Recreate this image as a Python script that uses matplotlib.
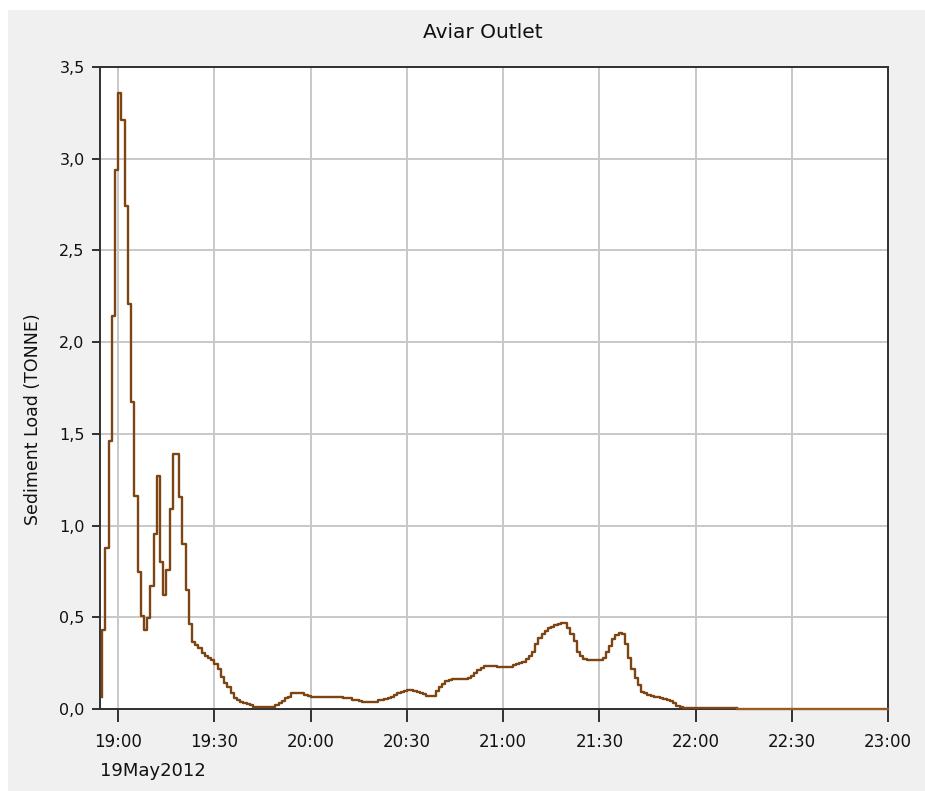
import matplotlib
matplotlib.use("Agg")
import matplotlib.pyplot as plt
import matplotlib.dates as mdates
from matplotlib.patches import Rectangle
from matplotlib.ticker import FuncFormatter
import pandas as pd

# sediment load (tonne), 1-minute steps starting 18:55
load = [
    0.067, 0.43, 0.876, 1.461, 2.14, 2.94, 3.357, 3.21, 2.74, 2.207,
    1.676, 1.161, 0.745, 0.505, 0.43, 0.494, 0.67, 0.955, 1.27, 0.80,
    0.62, 0.758, 1.089, 1.39, 1.39, 1.158, 0.898, 0.649, 0.462, 0.364,
    0.349, 0.331, 0.304, 0.289, 0.28, 0.267, 0.244, 0.216, 0.176, 0.144,
    0.118, 0.086, 0.062, 0.049, 0.04, 0.035, 0.027, 0.02, 0.013, 0.013,
    0.013, 0.013, 0.013, 0.013, 0.013, 0.02, 0.035, 0.045, 0.06, 0.067,
    0.089, 0.089, 0.089, 0.089, 0.076, 0.072, 0.067, 0.067, 0.067, 0.067,
    0.067, 0.067, 0.067, 0.067, 0.067, 0.067, 0.058, 0.058, 0.058, 0.05,
    0.049, 0.042, 0.036, 0.036, 0.036, 0.036, 0.04, 0.049, 0.049, 0.055,
    0.058, 0.065, 0.076, 0.085, 0.09, 0.1, 0.104, 0.104, 0.1, 0.095,
    0.088, 0.082, 0.071, 0.071, 0.071, 0.1, 0.122, 0.135, 0.15, 0.158,
    0.165, 0.165, 0.165, 0.165, 0.165, 0.17, 0.182, 0.195, 0.21, 0.225,
    0.235, 0.235, 0.235, 0.235, 0.227, 0.227, 0.227, 0.227, 0.227, 0.238,
    0.243, 0.249, 0.258, 0.27, 0.29, 0.31, 0.355, 0.385, 0.41, 0.425,
    0.44, 0.449, 0.458, 0.462, 0.471, 0.471, 0.44, 0.41, 0.37, 0.31,
    0.29, 0.275, 0.267, 0.267, 0.267, 0.267, 0.267, 0.28, 0.31, 0.345,
    0.38, 0.405, 0.413, 0.41, 0.355, 0.28, 0.22, 0.17, 0.13, 0.095,
    0.085, 0.075, 0.071, 0.068, 0.067, 0.062, 0.053, 0.048, 0.042, 0.035,
    0.018, 0.01, 0.005, 0.005, 0.005, 0.005, 0.005, 0.005, 0.005, 0.005,
    0.005, 0.005, 0.005, 0.005, 0.005, 0.005, 0.005, 0.005, 0.005,
]
start_time = "2012-05-19 18:55"
tail_times = ["2012-05-19 22:13", "2012-05-19 23:00"]
tail_load = [0.0, 0.0]

title = "Aviar Outlet"
y_label = "Sediment Load (TONNE)"
date_label = "19May2012"
y_ticks = [0.0, 0.5, 1.0, 1.5, 2.0, 2.5, 3.0, 3.5]

times = pd.date_range(start_time, periods=len(load), freq="min")

plt.rcParams["font.family"] = ["DejaVu Sans"]

fig = plt.figure(figsize=(9.25, 7.91), dpi=100, facecolor="white")
fig.patches.append(Rectangle((8 / 925, 0), 1, 1 - 10 / 791, transform=fig.transFigure,
                             facecolor="#f0f0f0", edgecolor="none", zorder=-10))

ax = fig.add_axes([100 / 925, 1 - 709 / 791, 788 / 925, 642 / 791])
ax.set_facecolor("white")

ax.plot(times, load, drawstyle="steps-pre", color="#7d4512", lw=1.7, zorder=3, clip_on=False)
ax.plot(pd.to_datetime(tail_times), tail_load, color="#9a5a22", lw=1.7, zorder=3, clip_on=False)

ax.set_xlim(pd.Timestamp("2012-05-19 18:54:18"), pd.Timestamp("2012-05-19 23:00"))
ax.set_ylim(0, 3.5)
ax.set_yticks(y_ticks)
ax.yaxis.set_major_formatter(FuncFormatter(lambda v, p: f"{v:.1f}".replace(".", ",")))
ax.xaxis.set_major_locator(mdates.MinuteLocator(byminute=[0, 30]))
ax.xaxis.set_major_formatter(mdates.DateFormatter("%H:%M"))

ax.grid(True, color="#c8c8c8", lw=1.4)
ax.set_axisbelow(True)
for s in ax.spines.values():
    s.set_color("#303030")
    s.set_linewidth(1.4)

ax.tick_params(axis="x", direction="out", length=9, width=1.4, color="#303030",
               labelsize=12, pad=8, labelcolor="#111111")
ax.tick_params(axis="y", direction="out", length=6, width=1.4, color="#303030",
               labelsize=11.5, pad=5, labelcolor="#111111")

fig.text(483 / 925, 1 - 33 / 791, title, ha="center", va="center", fontsize=14.5, color="#111111")
fig.text(33 / 925, 1 - 419 / 791, y_label, ha="center", va="center", rotation=90,
         fontsize=12.5, color="#111111")
fig.text(100 / 925, 1 - 771 / 791, date_label, ha="left", va="center", fontsize=13, color="#111111")

fig.savefig("out.png", dpi=100, facecolor=fig.get_facecolor())
